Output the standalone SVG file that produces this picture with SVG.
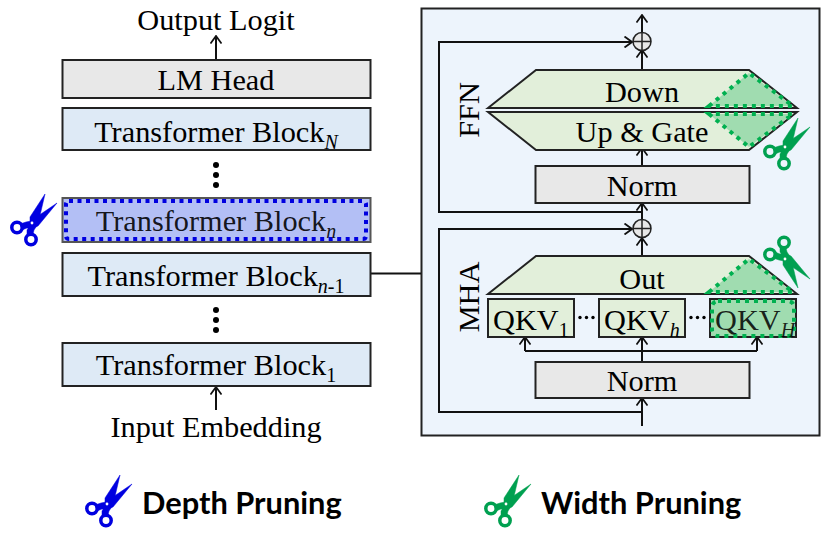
<svg xmlns="http://www.w3.org/2000/svg" xmlns:xlink="http://www.w3.org/1999/xlink" width="830" height="535" viewBox="0 0 830 535">
<style>
text{font-family:"Liberation Serif","Times New Roman",serif;font-size:30.300px;fill:#000;text-anchor:middle}
.sub{font-size:20px}
.i{font-style:italic}
.leg{font-family:Lato,"Open Sans",sans-serif;font-weight:700;font-size:30.800px;text-anchor:start}
.box{stroke:#222;stroke-width:2}
.gray{fill:#e8e8e8}
.blue{fill:#deeaf6}
.lg{fill:#e2efda}
.wire{fill:none;stroke:#111;stroke-width:2}
.arr{marker-end:url(#head)}
.gd{fill:#a0dcb0;stroke:#00b050;stroke-width:4;stroke-dasharray:4 5}
.dot{fill:#000}
</style>
<defs>
<marker id="head" viewBox="-9 -6 10 12" refX="0" refY="0" markerWidth="10" markerHeight="12" markerUnits="userSpaceOnUse" orient="auto"><path d="M-7.500,-5.500L0,0L-7.500,5.500" fill="none" stroke="#111" stroke-width="1.800"/></marker>
<g id="sc">
<path stroke-width=".5" d="M13,-29L6,1L2,7L1,11L-5,11L-5,7L-2,2L-2,-6Z"/>
<path stroke-width=".5" d="M25,-20L6,3L1,5L-5,5L-10,7L-12,1L-6,-1L-1,-2L3,-5Z"/>
<circle cx="-15" cy="4.500" r="5.200" fill="none" stroke-width="3.500"/>
<circle cx="-1" cy="16.500" r="5.200" fill="none" stroke-width="3.500"/>
<circle cx="0" cy="0" r="1.400" fill="#fff" stroke="none"/>
</g>
</defs>
<rect width="830" height="535" fill="#fff"/>

<g id="panel"><rect x="421.500" y="8.500" width="398" height="427" fill="#edf4fc" stroke="#222" stroke-width="2"/></g>

<g id="connectors">
<path class="wire arr" d="M216,60V36"/>
<path class="wire arr" d="M216,410V387"/>
<path class="wire" d="M371,273.500H421"/>
<path class="wire arr" d="M642,33V15"/>
<path class="wire arr" d="M642,70V50"/>
<path class="wire arr" d="M642,166V148"/>
<path class="wire arr" d="M642,220V203"/>
<path class="wire arr" d="M642,212H439V42H632"/>
<path class="wire arr" d="M642,256V238"/>
<path class="wire arr" d="M642,412H439V229H632"/>
<path class="wire arr" d="M642,362V337"/>
<path class="wire arr" d="M525,351V337"/>
<path class="wire arr" d="M757,351V337"/>
<path class="wire" d="M525,351H757"/>
<path class="wire arr" d="M642,426V398"/>
</g>

<g id="output-logit"><text x="216" y="30">Output Logit</text></g>
<g id="lm-head"><rect class="box gray" x="62.500" y="60" width="308" height="38"/><text x="216" y="90">LM Head</text></g>
<g id="block-N"><rect class="box blue" x="62.500" y="108" width="308" height="42"/><text x="216" y="141.500">Transformer Block<tspan class="sub i" dy="7">N</tspan></text></g>
<g id="dots-top"><circle class="dot" cx="216" cy="165" r="3"/><circle class="dot" cx="216" cy="175" r="3"/><circle class="dot" cx="216" cy="185" r="3"/></g>
<g id="block-n"><rect x="62.500" y="198" width="308" height="44" fill="#b3bff5" stroke="#555" stroke-width="2"/><rect x="66" y="201" width="300" height="38" rx="3" fill="none" stroke="#0000e0" stroke-width="4" stroke-dasharray="4 4.500"/><text x="216" y="231" fill-opacity=".9">Transformer Block<tspan class="sub i" dy="7">n</tspan></text></g>
<g id="block-n-1"><rect class="box blue" x="62.500" y="253" width="308" height="43"/><text x="216" y="285.500">Transformer Block<tspan class="sub i" dy="7">n</tspan><tspan class="sub">-1</tspan></text></g>
<g id="dots-bottom"><circle class="dot" cx="216" cy="310" r="3"/><circle class="dot" cx="216" cy="320" r="3"/><circle class="dot" cx="216" cy="330" r="3"/></g>
<g id="block-1"><rect class="box blue" x="62.500" y="343" width="308" height="43"/><text x="216" y="375">Transformer Block<tspan class="sub" dy="7">1</tspan></text></g>
<g id="input-embedding"><text x="216" y="436.500">Input Embedding</text></g>

<g id="add-ffn"><circle cx="642" cy="41.500" r="9" fill="#e8e8e8" stroke="#222" stroke-width="1.500"/><path d="M633,41.500H651M642,32.500V50.500" stroke="#222" stroke-width="1.500"/></g>
<g id="add-mha"><circle cx="642" cy="228.500" r="9" fill="#e8e8e8" stroke="#222" stroke-width="1.500"/><path d="M633,228.500H651M642,219.500V237.500" stroke="#222" stroke-width="1.500"/></g>

<g id="ffn-label"><text transform="translate(479,110) rotate(-90)">FFN</text></g>
<g id="down"><path class="box lg" d="M488,108L536,70H749L797,108Z"/><path class="gd" d="M709,106L749,73L793,106Z"/><text x="642" y="102">Down</text></g>
<g id="up-gate"><path class="box lg" d="M488,112L536,150H749L797,112Z"/><path class="gd" d="M709,114L749,147L793,114Z"/><text x="642" y="142">Up &amp; Gate</text></g>
<g id="norm-ffn"><rect class="box gray" x="535.500" y="166" width="214" height="37"/><text x="642" y="196">Norm</text></g>

<g id="mha-label"><text transform="translate(479,297) rotate(-90)">MHA</text></g>
<g id="out"><path class="box lg" d="M488,294L536,256H749L797,294Z"/><path class="gd" d="M709,292L749,259L793,292Z"/><text x="642" y="288.500">Out</text></g>
<g id="qkv-1"><rect class="box lg" x="488" y="299" width="86" height="38"/><text x="493" y="330" style="text-anchor:start">QKV<tspan class="sub" dy="7">1</tspan></text></g>
<g id="qkv-h"><rect class="box lg" x="599" y="299" width="86" height="38"/><text x="604" y="330" style="text-anchor:start">QKV<tspan class="sub i" dy="7">h</tspan></text></g>
<g id="qkv-H"><rect class="box" x="710" y="299" width="86" height="38" fill="#a0dcb0"/><rect x="712" y="301" width="82" height="35" rx="6" fill="none" stroke="#00b050" stroke-width="4" stroke-dasharray="4 5"/><text x="715" y="330" style="text-anchor:start" fill-opacity=".85">QKV<tspan class="sub i" dy="7">H</tspan></text></g>
<g id="ellipsis-1"><circle class="dot" cx="580" cy="317.500" r="1.700"/><circle class="dot" cx="586.500" cy="317.500" r="1.700"/><circle class="dot" cx="593" cy="317.500" r="1.700"/></g>
<g id="ellipsis-2"><circle class="dot" cx="691" cy="317.500" r="1.700"/><circle class="dot" cx="697.500" cy="317.500" r="1.700"/><circle class="dot" cx="704" cy="317.500" r="1.700"/></g>
<g id="norm-mha"><rect class="box gray" x="535.500" y="362" width="214" height="36"/><text x="642" y="391">Norm</text></g>

<g id="scissors-depth" fill="#0000e0" stroke="#0000e0"><use href="#sc" transform="translate(32,223)"/></g>
<g id="scissors-ffn" fill="#00a050" stroke="#00a050"><use href="#sc" transform="translate(785,147)"/></g>
<g id="scissors-mha" fill="#00a050" stroke="#00a050"><use href="#sc" transform="translate(785,259) scale(1,-1)"/></g>

<g id="legend-depth" fill="#0000e0" stroke="#0000e0"><use href="#sc" transform="translate(107,504)"/><text class="leg" x="142" y="514" stroke="none">Depth Pruning</text></g>
<g id="legend-width" fill="#00a050" stroke="#00a050"><use href="#sc" transform="translate(506,504)"/><text class="leg" x="541" y="514" stroke="none">Width Pruning</text></g>
</svg>
